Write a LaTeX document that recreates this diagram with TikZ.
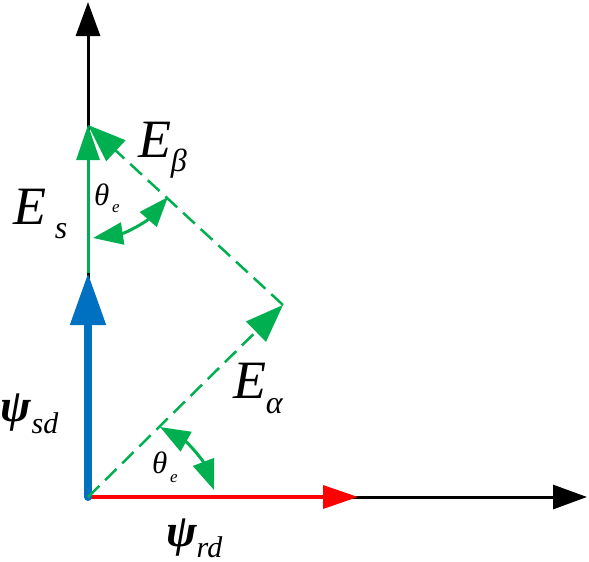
\documentclass[tikz,border=0pt]{standalone}
\usepackage{fontspec}
\setmainfont{Liberation Serif}
\usetikzlibrary{arrows.meta}
\definecolor{vgreen}{RGB}{0,176,80}
\definecolor{vblue}{RGB}{0,112,192}
\definecolor{vred}{RGB}{255,0,0}
\tikzset{
  axisline/.style={line width=3pt, black, -{Triangle[length=34pt,width=24pt]}},
  redvec/.style={line width=3.5pt, vred, -{Triangle[length=35pt,width=23pt]}},
  bluevec/.style={line width=8pt, vblue, line cap=round, -{Triangle[length=52pt,width=34pt]}},
  greenvec/.style={line width=3pt, vgreen, -{Triangle[length=35pt,width=23pt]}},
  dashvec/.style={line width=2.5pt, vgreen, dash pattern=on 16pt off 8pt, -{Triangle[length=38pt,width=28pt]}},
  angarc/.style={line width=3pt, vgreen, {Triangle[length=30pt,width=22pt]}-{Triangle[length=30pt,width=22pt]}},
  lab/.style={anchor=base west, inner sep=0pt, outer sep=0pt}
}
\newcommand\bigE{\fontsize{54}{54}\selectfont\itshape E}
\newcommand\subt[2]{\raisebox{-#1pt}{\fontsize{32}{32}\selectfont\itshape #2}}
\begin{document}
\begin{tikzpicture}[x=1pt,y=-1pt]
\useasboundingbox (0,0) rectangle (589,562);
\coordinate (O) at (88,497);
\coordinate (ytip) at (88,2);
\coordinate (xtip) at (587,497);
\coordinate (psr) at (358,497);
\coordinate (pss) at (88,273);
\coordinate (Es) at (88,125);
\coordinate (Ea) at (283,305);
\coordinate (a1) at (93,238);
\coordinate (a2) at (168,197);
\coordinate (b1) at (160,427);
\coordinate (b2) at (214,490);
\draw[axisline] (O) -- (ytip);
\draw[axisline] (O) -- (xtip);
\draw[redvec] (O) -- (psr);
\draw[greenvec] (pss) -- (Es);
\draw[bluevec] (O) -- (pss);
\draw[dashvec] (O) -- (Ea);
\draw[dashvec] (Ea) -- (Es);
\draw[angarc] (a1) to[bend right=20] (a2);
\draw[angarc] (b1) to[bend left=20] (b2);
% labels
\node[lab] (lEs) at (13,224) {\bigE\hspace{9pt}\subt{14}{s}};
\node[lab] (lEb) at (138,157) {\bigE\subt{14}{β}};
\node[lab] (lEa) at (233,398) {\bigE\subt{15}{α}};
\node[lab] (lt1) at (94,205) {\fontsize{31}{31}\selectfont\itshape θ\hspace{3pt}\raisebox{-7pt}{\fontsize{17}{17}\selectfont e}};
\node[lab] (lt2) at (152,473) {\fontsize{31}{31}\selectfont\itshape θ\hspace{3pt}\raisebox{-9pt}{\fontsize{17}{17}\selectfont e}};
\node[lab] (lpsd) at (1,421) {\fontsize{46}{46}\selectfont\bfseries\itshape ψ\mdseries\raisebox{-12pt}{\fontsize{30}{30}\selectfont\itshape sd}};
\node[lab] (lprd) at (166,546) {\fontsize{46}{46}\selectfont\bfseries\itshape ψ\mdseries\raisebox{-11pt}{\fontsize{30}{30}\selectfont\itshape rd}};
\end{tikzpicture}
\end{document}
